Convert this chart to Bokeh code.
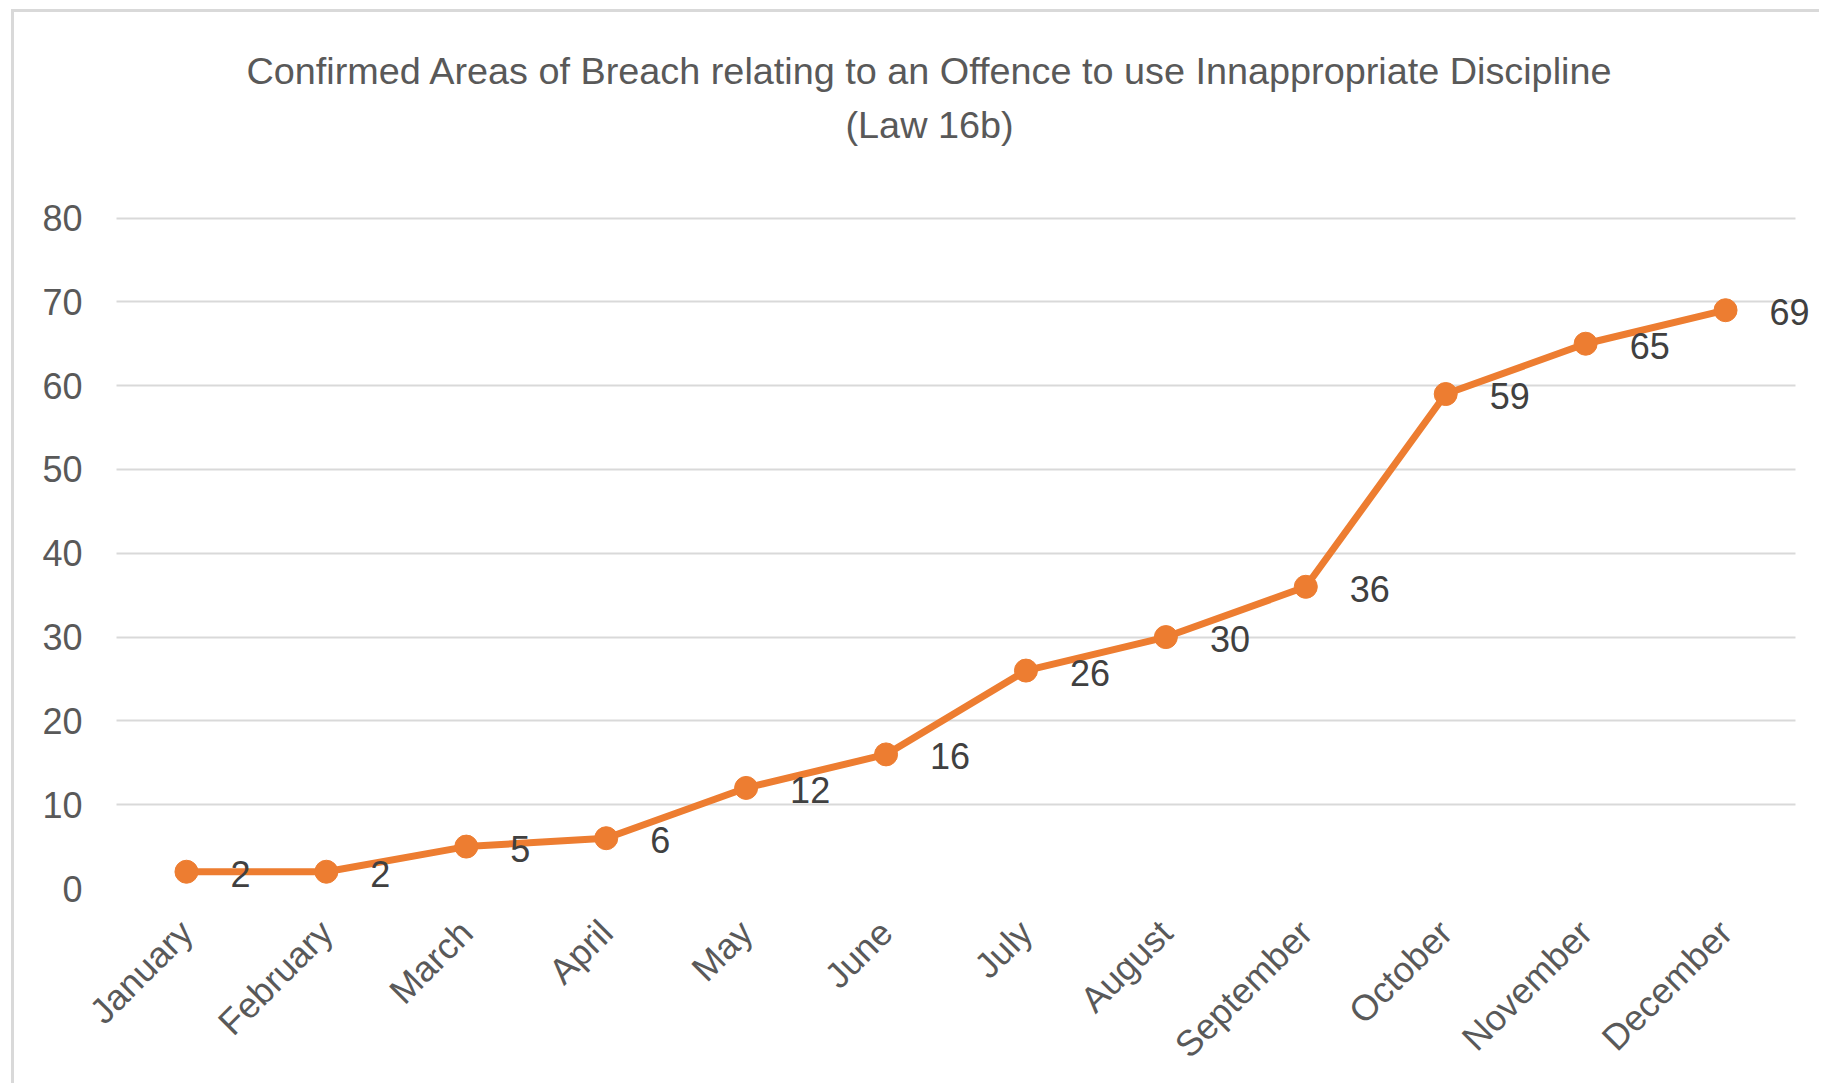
import math
from bokeh.plotting import figure
from bokeh.models import (ColumnDataSource, LabelSet, Title, Range1d,
                          FactorRange, FixedTicker)
from bokeh.core.properties import value
from bokeh.embed import file_html
from bokeh.resources import INLINE

months = ["January", "February", "March", "April", "May", "June", "July",
          "August", "September", "October", "November", "December"]
counts = [2, 2, 5, 6, 12, 16, 26, 30, 36, 59, 65, 69]
y_ticks = [0, 10, 20, 30, 40, 50, 60, 70, 80]
title_line1 = "Confirmed Areas of Breach relating to an Offence to use Innappropriate Discipline"
title_line2 = "(Law 16b)"

FONT = "Liberation Sans"
ORANGE = "#ED7D31"
GRID = "#D9D9D9"
TXT = "#595959"

W, H = 1819, 1083
src = ColumnDataSource(dict(m=months, c=counts, lbl=[str(v) for v in counts]))

p = figure(x_range=FactorRange(*months, range_padding=0.15, range_padding_units="absolute"),
           y_range=Range1d(0, 80.3),
           width=W, height=H, output_backend="svg", toolbar_location=None,
           min_border_left=95, min_border_right=3,
           min_border_top=215, min_border_bottom=194)
p.outline_line_color = None
p.background_fill_color = "white"
p.border_fill_color = None
p.styles = {
    "background": ("linear-gradient(#D9D9D9,#D9D9D9) 11px 9px / 3px 100% no-repeat, "
                   "linear-gradient(#D9D9D9,#D9D9D9) 11px 9px / 100% 3px no-repeat, white"),
}

p.xgrid.grid_line_color = None
p.ygrid.grid_line_color = GRID
p.ygrid.grid_line_width = 2
p.ygrid.cross_bounds = (0, 12)

p.yaxis.ticker = FixedTicker(ticks=y_ticks)
p.yaxis.axis_line_color = None
p.yaxis.major_tick_line_color = None
p.yaxis.minor_tick_line_color = None
p.yaxis.major_tick_out = 0
p.yaxis.major_tick_in = 0
p.yaxis.major_label_standoff = 13
p.yaxis.major_label_text_font = FONT
p.yaxis.major_label_text_font_size = "36px"
p.yaxis.major_label_text_color = TXT

p.xaxis.axis_line_color = None
p.xaxis.major_tick_line_color = None
p.xaxis.minor_tick_line_color = None
p.xaxis.major_tick_out = 0
p.xaxis.major_tick_in = 0
p.xaxis.major_label_standoff = 38
p.xaxis.major_label_orientation = math.pi / 4
p.xaxis.major_label_text_font = FONT
p.xaxis.major_label_text_font_size = "36px"
p.xaxis.major_label_text_color = TXT

p.line("m", "c", source=src, line_color=ORANGE, line_width=7)
p.scatter("m", "c", source=src, size=23, fill_color=ORANGE, line_color=ORANGE)

labels = LabelSet(x="m", y="c", text="lbl", source=src, x_offset=44, y_offset=-2,
                  text_align="left", text_baseline="middle",
                  text_font=value(FONT), text_font_size=value("36px"), text_color="#404040")
p.add_layout(labels)

# titles: the one added first sits closest to the plot frame
p.add_layout(Title(text=title_line2, align="left", offset=750, standoff=139,
                   text_font=FONT, text_font_size="37.8px", text_color=TXT,
                   text_font_style="normal"), "above")
p.add_layout(Title(text=title_line1, align="left", offset=151, standoff=-119,
                   text_font=FONT, text_font_size="37.8px", text_color=TXT,
                   text_font_style="normal"), "above")

open("out.html", "w").write(file_html(p, INLINE))
